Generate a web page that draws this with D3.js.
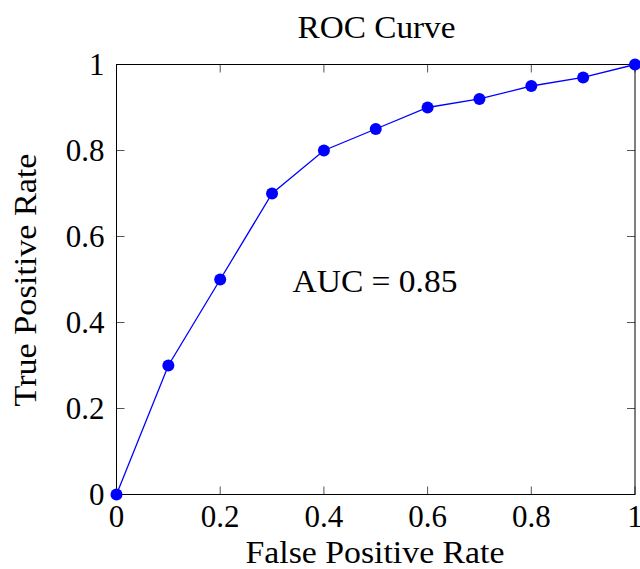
<!DOCTYPE html>
<html><head><meta charset="utf-8">
<script src="https://cdn.jsdelivr.net/npm/d3@7"></script>
<style>html,body{margin:0;padding:0;background:#fff;overflow:hidden}</style>
</head><body>
<script>
const fpr = [0, 0.1, 0.2, 0.3, 0.4, 0.5, 0.6, 0.7, 0.8, 0.9, 1.0];
const tpr = [0, 0.3, 0.5, 0.7, 0.8, 0.85, 0.9, 0.92, 0.95, 0.97, 1.0];
const xTicks = [0, 0.2, 0.4, 0.6, 0.8, 1];
const yTicks = [0, 0.2, 0.4, 0.6, 0.8, 1];
const tickLabels = ["0", "0.2", "0.4", "0.6", "0.8", "1"];
const title = "ROC Curve";
const xLabel = "False Positive Rate";
const yLabel = "True Positive Rate";
const annotation = "AUC = 0.85";

const W = 640, H = 569;
const L = 116.5, R = 635, T = 64.5, B = 494.5;
const font = "'Liberation Serif','Times New Roman',serif";
const fs = 31, fsw = 32;

const svg = d3.select("body").append("svg").attr("width", W).attr("height", H);
const x = d3.scaleLinear().domain([0, 1]).range([L, R]);
const y = d3.scaleLinear().domain([0, 1]).range([B, T]);
const tl = 8;

const g = svg.append("g");
xTicks.forEach(v => {
  g.append("line").attr("x1", x(v)).attr("x2", x(v)).attr("y1", B).attr("y2", B - tl).attr("stroke", "#555").attr("stroke-width", 1);
  g.append("line").attr("x1", x(v)).attr("x2", x(v)).attr("y1", T).attr("y2", T + tl).attr("stroke", "#555").attr("stroke-width", 1);
});
yTicks.forEach(v => {
  g.append("line").attr("y1", y(v)).attr("y2", y(v)).attr("x1", L).attr("x2", L + tl).attr("stroke", "#555").attr("stroke-width", 1);
  g.append("line").attr("y1", y(v)).attr("y2", y(v)).attr("x1", R).attr("x2", R - tl).attr("stroke", "#555").attr("stroke-width", 1);
});
g.append("rect").attr("x", L).attr("y", T).attr("width", R - L).attr("height", B - T)
  .attr("fill", "none").attr("stroke", "#000").attr("stroke-width", 1);

xTicks.forEach((v, i) => {
  svg.append("text").attr("x", x(v)).attr("y", 527).attr("text-anchor", "middle")
    .attr("font-family", font).attr("font-size", fs).text(tickLabels[i]);
});
yTicks.forEach((v, i) => {
  svg.append("text").attr("x", 104.5).attr("y", y(v) + 10.5).attr("text-anchor", "end")
    .attr("font-family", font).attr("font-size", fs).text(tickLabels[i]);
});

const line = d3.line().x((d, i) => x(fpr[i])).y(d => y(d));
svg.append("path").datum(tpr).attr("d", line).attr("fill", "none").attr("stroke", "#0000ff").attr("stroke-width", 1.3);
svg.selectAll("circle.pt").data(tpr).enter().append("circle")
  .attr("cx", (d, i) => x(fpr[i])).attr("cy", d => y(d)).attr("r", 6).attr("fill", "#0000ff");

function label(sel, len) {
  return sel.attr("font-family", font).attr("font-size", fsw).attr("text-anchor", "middle")
    .attr("textLength", len).attr("lengthAdjust", "spacingAndGlyphs");
}
label(svg.append("text").attr("x", 375).attr("y", 291.5).text(annotation), 165);
label(svg.append("text").attr("x", 376.5).attr("y", 38).text(title), 158);
label(svg.append("text").attr("x", 375).attr("y", 563).text(xLabel), 259);
label(svg.append("text").attr("transform", `translate(35.5,280) rotate(-90)`).text(yLabel), 253);
</script>
</body></html>
